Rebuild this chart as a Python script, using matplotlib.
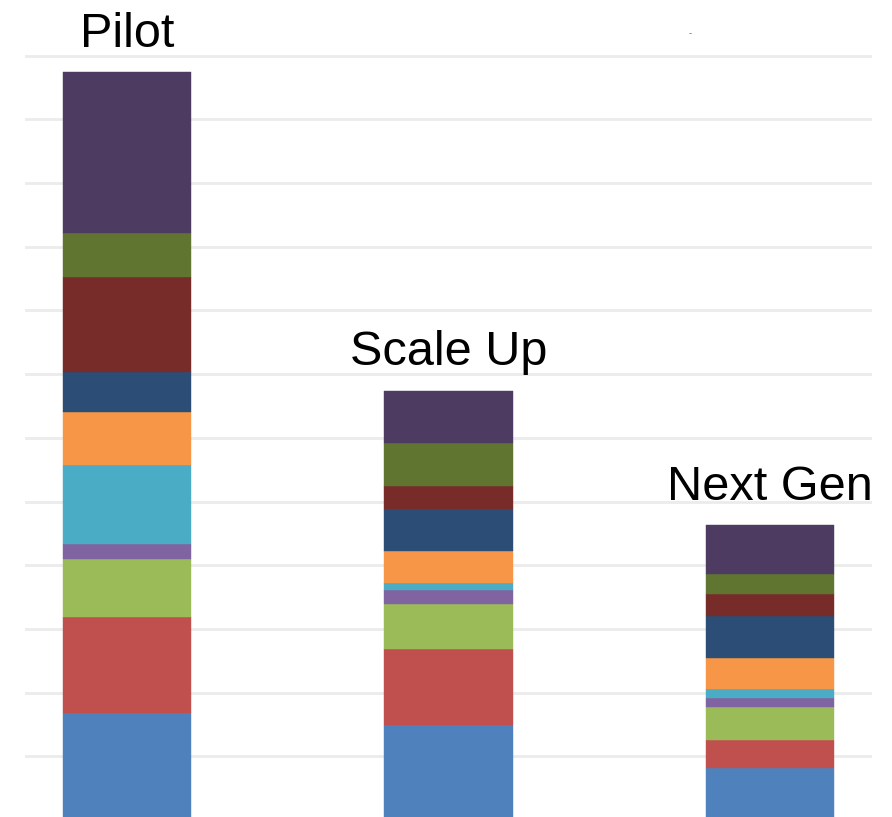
import matplotlib
matplotlib.use("Agg")
import matplotlib.pyplot as plt
import numpy as np

plt.rcParams['font.family'] = ['Liberation Sans', 'DejaVu Sans']

categories = ["Pilot", "Scale Up", "Next Gen"]

# stacked components, bottom to top
blue       = [1.68, 1.49, 0.82]
red        = [1.51, 1.19, 0.44]
green      = [0.91, 0.71, 0.52]
purple     = [0.24, 0.22, 0.13]
cyan       = [1.24, 0.11, 0.14]
orange     = [0.83, 0.50, 0.49]
navy       = [0.63, 0.66, 0.66]
dark_red   = [1.49, 0.36, 0.35]
olive      = [0.68, 0.68, 0.31]
dark_purple = [2.53, 0.82, 0.77]

series = [blue, red, green, purple, cyan, orange, navy, dark_red, olive, dark_purple]
colors = ["#4F81BD", "#C0504D", "#9BBB59", "#8064A2", "#4BACC6",
          "#F79646", "#2C4D75", "#772C2A", "#5F7530", "#4D3B62"]

fig = plt.figure(figsize=(8.92, 8.17), dpi=100)
ax = fig.add_axes([25 / 892, 0, 847 / 892, 1])

x = np.arange(len(categories))
bottom = np.zeros(len(categories))
for vals, col in zip(series, colors):
    ax.bar(x, vals, width=0.4, bottom=bottom, color=col,
           edgecolor=col, linewidth=0.3, zorder=3)
    bottom += np.array(vals)

for xi, total, name in zip(x, bottom, categories):
    ax.annotate(name, (xi, total), xytext=(0, 11), textcoords="offset points",
                ha="center", va="bottom", fontsize=35, color="black", zorder=4)

fig.text(690 / 892, 1 - 33 / 817, "-", fontsize=7,
         color="#777777", ha="center", va="center")

ax.set_xlim(-0.317, 2.317)
ax.set_ylim(0.047, 12.873)
ax.set_yticks(np.arange(1, 13))
ax.yaxis.grid(True, color="#ebebeb", linewidth=2, zorder=0)
ax.set_axisbelow(True)
ax.tick_params(left=False, bottom=False, labelleft=False, labelbottom=False)
for s in ax.spines.values():
    s.set_visible(False)

fig.savefig("out.png", dpi=100)
